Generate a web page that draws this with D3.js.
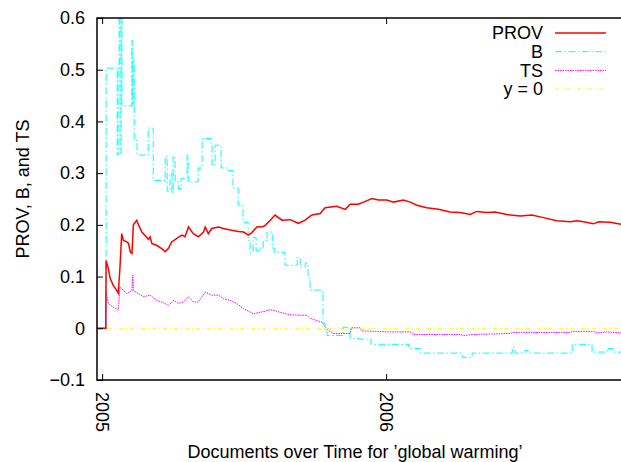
<!DOCTYPE html>
<html>
<head>
<meta charset="utf-8">
<script src="https://cdn.jsdelivr.net/npm/d3@7"></script>
<style>
  body { margin: 0; background: #fff; }
  text { font-family: "Liberation Sans", Arial, Helvetica, sans-serif; }
</style>
</head>
<body>
<div id="CHART"></div>
<script>
// ------------------------- data ------------------------//
// x values are decimal years

var prov = [
  [2004.982, 0], [2005.013, 0], [2005.014, 0.131], [2005.022, 0.115], [2005.028, 0.097],
  [2005.039, 0.083], [2005.052, 0.073], [2005.057, 0.068], [2005.063, 0.119], [2005.069, 0.183],
  [2005.075, 0.17], [2005.087, 0.167], [2005.093, 0.164], [2005.099, 0.148], [2005.105, 0.145],
  [2005.110, 0.2], [2005.122, 0.209], [2005.128, 0.2], [2005.140, 0.186], [2005.163, 0.172],
  [2005.169, 0.177], [2005.175, 0.164], [2005.193, 0.16], [2005.210, 0.154], [2005.222, 0.148],
  [2005.233, 0.154], [2005.245, 0.167], [2005.263, 0.174], [2005.281, 0.18], [2005.292, 0.177],
  [2005.304, 0.196], [2005.321, 0.183], [2005.339, 0.177], [2005.357, 0.186], [2005.363, 0.196],
  [2005.374, 0.183], [2005.386, 0.193], [2005.410, 0.196], [2005.427, 0.193], [2005.451, 0.19],
  [2005.480, 0.187], [2005.498, 0.186], [2005.515, 0.18], [2005.527, 0.185], [2005.545, 0.196],
  [2005.568, 0.197], [2005.574, 0.199], [2005.592, 0.209], [2005.609, 0.219], [2005.633, 0.209],
  [2005.662, 0.21], [2005.691, 0.203], [2005.715, 0.209], [2005.738, 0.219], [2005.768, 0.222],
  [2005.785, 0.233], [2005.826, 0.236], [2005.856, 0.23], [2005.873, 0.24], [2005.902, 0.24],
  [2005.920, 0.244], [2005.950, 0.251], [2005.973, 0.248], [2006.002, 0.248], [2006.026, 0.244],
  [2006.061, 0.248], [2006.085, 0.244], [2006.108, 0.238], [2006.143, 0.233], [2006.184, 0.23],
  [2006.225, 0.225], [2006.261, 0.224], [2006.296, 0.22], [2006.319, 0.226], [2006.355, 0.224],
  [2006.384, 0.225], [2006.425, 0.22], [2006.472, 0.217], [2006.513, 0.219], [2006.554, 0.214],
  [2006.601, 0.208], [2006.648, 0.206], [2006.671, 0.208], [2006.695, 0.206], [2006.730, 0.202],
  [2006.748, 0.206], [2006.789, 0.205], [2006.827, 0.201]
];

var bal = [
  [2004.982, 0], [2005.014, 0.503], [2005.053, 0.335], [2005.056, 0.5], [2005.060, 0.62],
  [2005.063, 0.34], [2005.067, 0.65], [2005.070, 0.43], [2005.105, 0.557], [2005.106, 0.43],
  [2005.109, 0.52], [2005.113, 0.364], [2005.123, 0.335], [2005.162, 0.387], [2005.180, 0.286],
  [2005.222, 0.333], [2005.229, 0.265], [2005.239, 0.3], [2005.246, 0.26], [2005.250, 0.333],
  [2005.257, 0.283], [2005.268, 0.27], [2005.278, 0.29], [2005.299, 0.335], [2005.303, 0.283],
  [2005.338, 0.31], [2005.352, 0.367], [2005.384, 0.357], [2005.387, 0.315], [2005.398, 0.354],
  [2005.419, 0.31], [2005.444, 0.305], [2005.461, 0.271], [2005.479, 0.238], [2005.496, 0.205],
  [2005.514, 0.17], [2005.521, 0.147], [2005.532, 0.176], [2005.542, 0.15], [2005.556, 0.155],
  [2005.567, 0.17], [2005.581, 0.186], [2005.599, 0.155], [2005.606, 0.147], [2005.644, 0.122],
  [2005.687, 0.137], [2005.697, 0.118], [2005.715, 0.126], [2005.725, 0.097], [2005.732, 0.074],
  [2005.775, 0.068], [2005.778, 0.01], [2005.785, -0.003], [2005.792, -0.014], [2005.849, 0.002],
  [2005.873, -0.02], [2005.908, -0.021], [2005.947, -0.031], [2006.081, -0.039], [2006.120, -0.048],
  [2006.268, -0.056], [2006.303, -0.048], [2006.444, -0.037], [2006.454, -0.048], [2006.489, -0.043],
  [2006.500, -0.048], [2006.655, -0.031], [2006.725, -0.046], [2006.778, -0.039], [2006.799, -0.046],
  [2006.827, -0.046]
];

var ts = [
  [2004.982, 0], [2005.013, 0], [2005.014, 0.07], [2005.022, 0.048], [2005.039, 0.041],
  [2005.057, 0.035], [2005.063, 0.08], [2005.075, 0.073], [2005.087, 0.067], [2005.105, 0.073],
  [2005.108, 0.103], [2005.110, 0.073], [2005.128, 0.067], [2005.145, 0.061], [2005.169, 0.064],
  [2005.193, 0.054], [2005.222, 0.048], [2005.233, 0.044], [2005.251, 0.054], [2005.269, 0.048],
  [2005.286, 0.051], [2005.304, 0.061], [2005.321, 0.051], [2005.339, 0.051], [2005.363, 0.07],
  [2005.386, 0.064], [2005.410, 0.064], [2005.427, 0.057], [2005.451, 0.054], [2005.474, 0.048],
  [2005.498, 0.038], [2005.533, 0.028], [2005.556, 0.031], [2005.574, 0.033], [2005.592, 0.036],
  [2005.627, 0.031], [2005.662, 0.026], [2005.721, 0.025], [2005.732, 0.019], [2005.756, 0.015],
  [2005.774, 0.012], [2005.785, 0.003], [2005.797, -0.004], [2005.814, -0.01], [2005.873, -0.01],
  [2005.879, 0.001], [2005.908, 0.001], [2005.914, -0.005], [2006.014, -0.007], [2006.085, -0.007],
  [2006.096, -0.012], [2006.261, -0.012], [2006.272, -0.014], [2006.307, -0.012], [2006.437, -0.01],
  [2006.448, -0.008], [2006.648, -0.008], [2006.659, -0.006], [2006.730, -0.006], [2006.742, -0.009],
  [2006.777, -0.007], [2006.827, -0.009]
];

var xTicks = [2005, 2006];
var yTicks = [-0.1, 0, 0.1, 0.2, 0.3, 0.4, 0.5, 0.6];
var legendLabels = ["PROV", "B", "TS", "y = 0"];

// ------------------------- svg init ------------------------//

var width = 621,
  height = 462;

var plot = { left: 97, top: 18, right: 623, bottom: 380 };

var svg = d3.select("#CHART").append("svg")
  .attr("width", width)
  .attr("height", height);

var x = d3.scaleLinear()
  .domain([2004.982, 2006.834])
  .range([plot.left, plot.right]);

var y = d3.scaleLinear()
  .domain([-0.1, 0.6])
  .range([plot.bottom, plot.top]);

svg.append("clipPath")
  .attr("id", "clip")
  .append("rect")
  .attr("x", plot.left)
  .attr("y", plot.top)
  .attr("width", plot.right - plot.left)
  .attr("height", plot.bottom - plot.top);

// ------------------------- series ------------------------//

var styles = [
  { color: "#ff0000", width: 1.5, dash: null, curve: d3.curveLinear },
  { color: "#00ffff", width: 1, dash: "7,2.5,1.5,2.5", curve: d3.curveStepAfter },
  { color: "#ff00ff", width: 1, dash: "1.5,1", curve: d3.curveLinear },
  { color: "#ffff00", width: 1, dash: "4,3,1,3", curve: d3.curveLinear }
];

var zero = x.domain().map(function (d) { return [d, 0]; });
var series = [prov, bal, ts, zero];

var g = svg.append("g").attr("clip-path", "url(#clip)");

// draw y = 0 first, then TS, B, PROV on top
[3, 2, 1, 0].forEach(function (i) {
  var line = d3.line()
    .x(function (d) { return x(d[0]); })
    .y(function (d) { return y(d[1]); })
    .curve(styles[i].curve);
  g.append("path")
    .datum(series[i])
    .attr("fill", "none")
    .attr("stroke", styles[i].color)
    .attr("stroke-width", styles[i].width)
    .attr("stroke-dasharray", styles[i].dash)
    .attr("d", line);
});

// ------------------------- axes ------------------------//

var yAxis = svg.append("g")
  .attr("transform", "translate(" + plot.left + ",0)")
  .call(d3.axisLeft(y).tickValues(yTicks).tickSize(-6).tickPadding(12)
    .tickFormat(function (d) { return d3.format("")(+d.toFixed(1)); }));

var xAxis = svg.append("g")
  .attr("transform", "translate(0," + plot.bottom + ")")
  .call(d3.axisBottom(x).tickValues(xTicks).tickSize(-6).tickFormat(d3.format("d")));

xAxis.selectAll("text")
  .attr("transform", "rotate(90)")
  .attr("x", 12)
  .attr("y", 0)
  .attr("dy", "0.35em")
  .style("text-anchor", "start");

svg.append("g")
  .attr("transform", "translate(0," + plot.top + ")")
  .call(d3.axisTop(x).tickValues(xTicks).tickSize(-6).tickFormat(""));

svg.selectAll(".domain").remove();
svg.selectAll(".tick line").attr("stroke", "#000").attr("stroke-width", 1);
svg.selectAll(".tick text")
  .attr("fill", "#000")
  .style("font-size", "18px")
  .style("font-family", "'Liberation Sans', Arial, Helvetica, sans-serif");

// border
svg.append("rect")
  .attr("x", plot.left)
  .attr("y", plot.top)
  .attr("width", plot.right - plot.left)
  .attr("height", plot.bottom - plot.top)
  .attr("fill", "none")
  .attr("stroke", "#000")
  .attr("stroke-width", 1.5);

// axis titles
svg.append("text")
  .attr("transform", "translate(29,189) rotate(-90)")
  .attr("text-anchor", "middle")
  .style("font-size", "18px")
  .text("PROV, B, and TS");

svg.append("text")
  .attr("x", 355)
  .attr("y", 458)
  .attr("text-anchor", "middle")
  .style("font-size", "18px")
  .text("Documents over Time for \u2019global warming\u2019");

// ------------------------- legend ------------------------//

var legend = svg.append("g").attr("class", "legend");

legendLabels.forEach(function (label, i) {
  var cy = 33 + i * 18.7;
  legend.append("text")
    .attr("x", 543)
    .attr("y", cy)
    .attr("dy", "0.35em")
    .attr("text-anchor", "end")
    .style("font-size", "18px")
    .text(label);
  legend.append("line")
    .attr("x1", 555)
    .attr("x2", 606)
    .attr("y1", cy)
    .attr("y2", cy)
    .attr("stroke", styles[i].color)
    .attr("stroke-width", styles[i].width)
    .attr("stroke-dasharray", styles[i].dash);
});
</script>
</body>
</html>
